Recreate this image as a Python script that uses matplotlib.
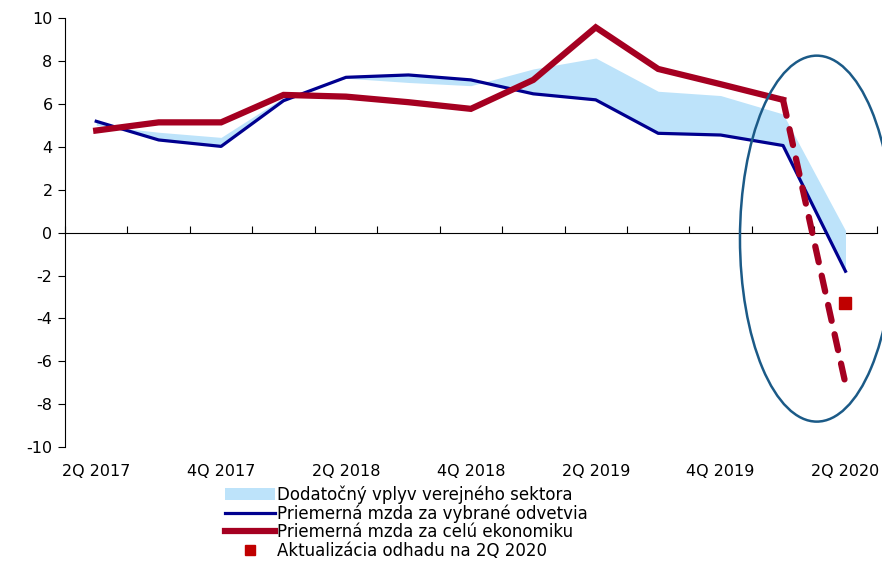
import numpy as np
import matplotlib.pyplot as plt
from matplotlib.patches import Ellipse, Patch
from matplotlib.lines import Line2D

plt.rcParams['axes.unicode_minus'] = False

# quarters 2Q 2017 .. 2Q 2020
quarters = ['2Q 2017', '3Q 2017', '4Q 2017', '1Q 2018', '2Q 2018', '3Q 2018', '4Q 2018',
            '1Q 2019', '2Q 2019', '3Q 2019', '4Q 2019', '1Q 2020', '2Q 2020']
selected = [5.19, 4.32, 4.02, 6.15, 7.24, 7.35, 7.12, 6.47, 6.19, 4.63, 4.55, 4.06, -1.8]
economy = [4.76, 5.14, 5.14, 6.42, 6.34, 6.08, 5.77, 7.12, 9.57, 7.63, 6.92, 6.19, -7.05]
with_public = [5.0, 4.68, 4.44, 6.3, 7.2, 7.0, 6.85, 7.63, 8.14, 6.59, 6.39, 5.53, 0.1]
update_2q2020 = -3.28

x = np.arange(len(quarters))

fig = plt.figure(figsize=(8.82, 5.66), dpi=100)
ax = fig.add_axes([0.0737, 0.21, 0.9203, 0.758])

# public sector effect band
ax.fill_between(x, selected, with_public, color='#BDE3FA', linewidth=0, zorder=1)

# average wage, selected sectors
ax.plot(x, selected, color='#00008F', lw=2.3, zorder=3)

# average wage, whole economy (solid, then dashed for last quarter)
ax.plot(x[:-1], economy[:-1], color='#A50021', lw=4.5, solid_joinstyle='miter', zorder=4)
ax.plot(x[-2:], economy[-2:], color='#A50021', lw=4.5, ls=(0, (2.6, 2.2)),
        dash_capstyle='round', zorder=4)

# updated estimate
ax.plot([x[-1]], [update_2q2020], 's', color='#C00000', ms=8, zorder=5)

# highlight ellipse
ell = Ellipse((11.54, -0.28), 2.46, 17.06, fill=False, edgecolor='#1B5A87', lw=1.8,
              clip_on=False, zorder=6)
ax.add_patch(ell)

ax.set_xlim(-0.5, 12.5)
ax.set_ylim(-10, 10)
ax.set_yticks(np.arange(-10, 11, 2))
ax.tick_params(axis='y', direction='out', length=5, labelsize=11.5, pad=4)

ax.spines['top'].set_visible(False)
ax.spines['right'].set_visible(False)
ax.spines['bottom'].set_visible(False)

# category labels at bottom
ax.set_xticks(x[::2])
ax.set_xticklabels(quarters[::2])
ax.tick_params(axis='x', length=0, labelsize=11.5, pad=12)

# zero axis with ticks between categories
zero_ax = ax.secondary_xaxis(0.5)
zero_ax.set_xticks(np.arange(-0.5, 13, 1))
zero_ax.set_xticklabels([])
zero_ax.tick_params(axis='x', direction='out', length=5)

handles = [
    Patch(facecolor='#BDE3FA', edgecolor='none'),
    Line2D([], [], color='#00008F', lw=2.3),
    Line2D([], [], color='#A50021', lw=4.5),
    Line2D([], [], marker='s', color='#C00000', ls='none', ms=7),
]
labels = ['Dodatočný vplyv verejného sektora',
          'Priemerná mzda za vybrané odvetvia',
          'Priemerná mzda za celú ekonomiku',
          'Aktualizácia odhadu na 2Q 2020']
fig.legend(handles, labels, loc='upper left', bbox_to_anchor=(0.255, 0.142), frameon=False,
           fontsize=12, handlelength=3.0, handletextpad=0.1, labelspacing=0.02,
           borderpad=0, borderaxespad=0)

fig.savefig('out.png', dpi=100)
